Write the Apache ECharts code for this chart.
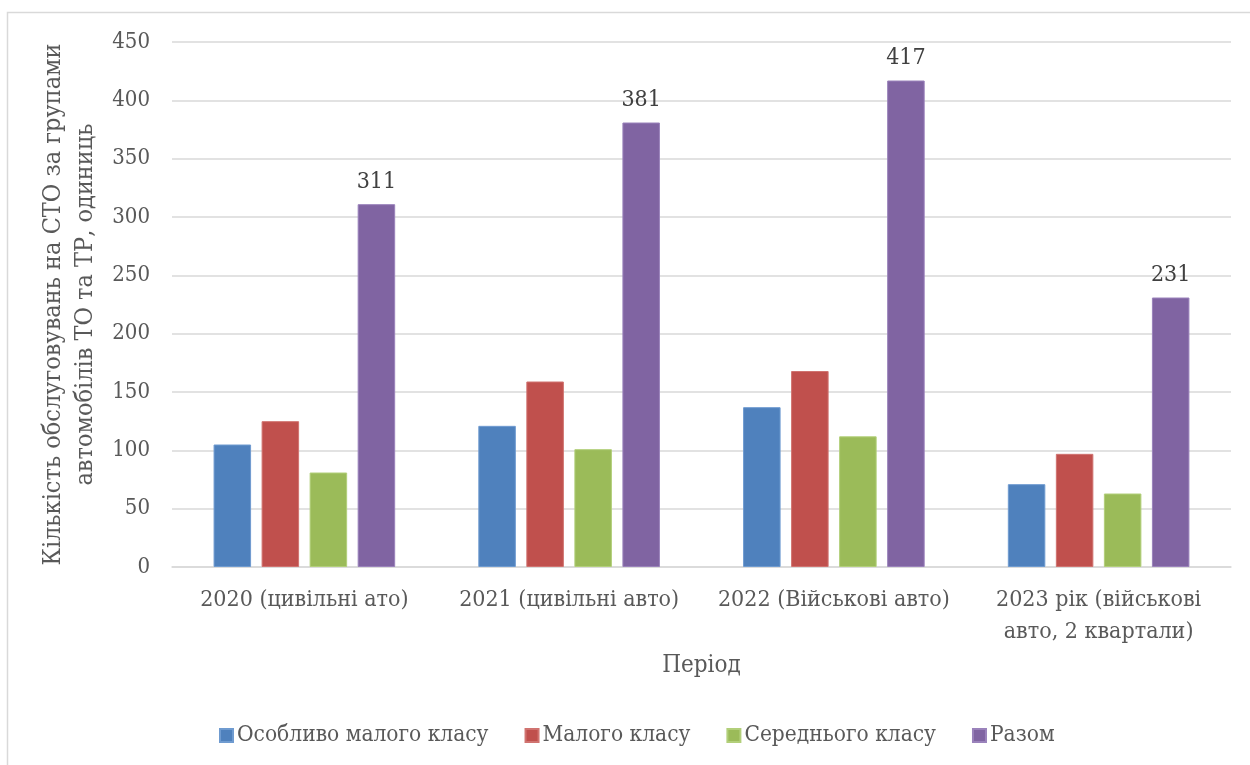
<!DOCTYPE html>
<html>
<head>
<meta charset="utf-8">
<script src="https://cdn.jsdelivr.net/npm/echarts@6/dist/echarts.min.js"></script>
<style>
html,body{margin:0;padding:0;background:#fff;}
#chart{width:1250px;height:765px;}
</style>
</head>
<body>
<div id="chart"></div>
<script>
const categories = ['2020 (цивільні ато)', '2021 (цивільні авто)', '2022 (Військові авто)', '2023 рік (військові\nавто, 2 квартали)'];
const seriesNames = ['Особливо малого класу', 'Малого класу', 'Середнього класу', 'Разом'];
const verySmall = [105, 121, 137, 71];
const small = [125, 159, 168, 97];
const medium = [81, 101, 112, 63];
const total = [311, 381, 417, 231];
const colors = ['#4F81BD', '#C0504D', '#9BBB59', '#8064A2'];
const borders = ['#6f9bd0', '#d07370', '#b2cf7a', '#9a82bb'];

const FONT = 'DejaVu Serif Condensed, DejaVu Serif, serif';
const TXT = '#595959';

const chart = echarts.init(document.getElementById('chart'));
const values = [verySmall, small, medium, total];
const series = values.map((d, i) => ({
  name: seriesNames[i],
  type: 'bar',
  data: d,
  barGap: '28%',
  barCategoryGap: '31.4%',
  itemStyle: { color: colors[i], borderColor: borders[i], borderWidth: 1 },
  label: i === 3 ? { show: true, position: 'top', distance: 11, fontFamily: FONT, fontSize: 23, color: '#404040' } : { show: false },
  emphasis: { disabled: true }
}));

chart.setOption({
  animation: false,
  backgroundColor: '#fff',
  color: colors,
  graphic: [{
    type: 'rect',
    shape: { x: 7.5, y: 12.5, width: 1400, height: 900 },
    style: { fill: 'none', stroke: '#d9d9d9', lineWidth: 1.5 },
    silent: true, z: -1
  }],
  grid: { left: 172, right: 19, top: 42, bottom: 198, containLabel: false },
  legend: {
    data: seriesNames,
    left: 214,
    top: 719,
    itemWidth: 13,
    itemHeight: 13,
    itemGap: 36,
    icon: 'rect',
    textStyle: { fontFamily: FONT, fontSize: 22.5, color: TXT, padding: [0, 0, 0, -1] }
  },
  xAxis: {
    type: 'category',
    data: categories,
    name: 'Період',
    nameLocation: 'middle',
    nameGap: 87,
    nameTextStyle: { fontFamily: FONT, fontSize: 24, color: TXT },
    axisLine: { show: true, lineStyle: { color: '#d9d9d9', width: 1.5 } },
    axisTick: { show: false },
    axisLabel: { interval: 0, fontFamily: FONT, fontSize: 23, color: TXT, margin: 17, lineHeight: 32 }
  },
  yAxis: {
    type: 'value',
    min: 0, max: 450, interval: 50,
    name: 'Кількість обслуговувань на СТО за групами\nавтомобілів ТО та ТР, одиниць',
    nameLocation: 'middle',
    nameGap: 70,
    nameRotate: 90,
    nameTextStyle: { fontFamily: FONT, fontSize: 25, color: TXT, lineHeight: 32 },
    axisLine: { show: false },
    axisTick: { show: false },
    splitLine: { lineStyle: { color: '#d9d9d9', width: 1.5 } },
    axisLabel: { fontFamily: FONT, fontSize: 22, color: TXT, margin: 22 }
  },
  series: series
});
</script>
</body>
</html>
